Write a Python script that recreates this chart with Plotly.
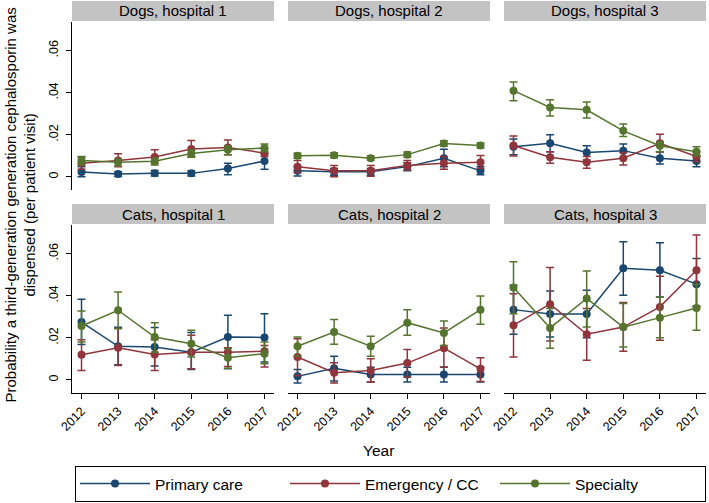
import plotly.graph_objects as go

years = [2012, 2013, 2014, 2015, 2016, 2017]
panel_titles = ["Dogs, hospital 1", "Dogs, hospital 2", "Dogs, hospital 3",
                "Cats, hospital 1", "Cats, hospital 2", "Cats, hospital 3"]
y_tickvals = [0, 0.02, 0.04, 0.06]
y_ticktext = ["0", ".02", ".04", ".06"]
series_names = ["Primary care", "Emergency / CC", "Specialty"]

# point estimates, one row per panel (order of panel_titles)
primary_est = [
    [0.0024, 0.0014, 0.0017, 0.0017, 0.0040, 0.0076],
    [0.0029, 0.0025, 0.0025, 0.0049, 0.0089, 0.0029],
    [0.0144, 0.0160, 0.0116, 0.0125, 0.0089, 0.0076],
    [0.0275, 0.0160, 0.0156, 0.0132, 0.0204, 0.0202],
    [0.0017, 0.0056, 0.0026, 0.0026, 0.0026, 0.0026],
    [0.0334, 0.0313, 0.0313, 0.0530, 0.0521, 0.0455],
]
primary_lo = [
    [0.0001, 0.0002, 0.0004, 0.0005, 0.0011, 0.0037],
    [0.0005, 0.0008, 0.0008, 0.0030, 0.0049, 0.0010],
    [0.0105, 0.0120, 0.0081, 0.0089, 0.0062, 0.0049],
    [0.0168, 0.0072, 0.0066, 0.0050, 0.0053, 0.0085],
    [-0.0015, -0.0005, -0.0010, -0.0010, -0.0010, -0.0010],
    [0.0217, 0.0204, 0.0200, 0.0402, 0.0394, 0.0350],
]
primary_hi = [
    [0.0049, 0.0025, 0.0031, 0.0030, 0.0065, 0.0110],
    [0.0050, 0.0040, 0.0040, 0.0068, 0.0132, 0.0050],
    [0.0180, 0.0200, 0.0148, 0.0157, 0.0120, 0.0097],
    [0.0383, 0.0250, 0.0249, 0.0225, 0.0307, 0.0315],
    [0.0050, 0.0112, 0.0060, 0.0060, 0.0060, 0.0060],
    [0.0450, 0.0423, 0.0426, 0.0656, 0.0652, 0.0577],
]

emergency_est = [
    [0.0065, 0.0078, 0.0095, 0.0133, 0.0140, 0.0113],
    [0.0049, 0.0029, 0.0029, 0.0054, 0.0065, 0.0070],
    [0.0149, 0.0094, 0.0070, 0.0089, 0.0160, 0.0097],
    [0.0120, 0.0153, 0.0121, 0.0132, 0.0131, 0.0136],
    [0.0109, 0.0034, 0.0045, 0.0080, 0.0151, 0.0053],
    [0.0260, 0.0360, 0.0217, 0.0251, 0.0347, 0.0521],
]
emergency_lo = [
    [0.0037, 0.0049, 0.0065, 0.0097, 0.0105, 0.0097],
    [0.0021, 0.0001, 0.0003, 0.0033, 0.0037, 0.0041],
    [0.0100, 0.0065, 0.0041, 0.0057, 0.0118, 0.0072],
    [0.0045, 0.0069, 0.0045, 0.0053, 0.0064, 0.0061],
    [0.0020, -0.0015, -0.0010, 0.0013, 0.0061, -0.0007],
    [0.0109, 0.0185, 0.0093, 0.0136, 0.0188, 0.0350],
]
emergency_hi = [
    [0.0095, 0.0110, 0.0129, 0.0173, 0.0176, 0.0133],
    [0.0078, 0.0054, 0.0054, 0.0078, 0.0097, 0.0102],
    [0.0195, 0.0120, 0.0097, 0.0116, 0.0203, 0.0120],
    [0.0191, 0.0244, 0.0191, 0.0212, 0.0153, 0.0164],
    [0.0196, 0.0082, 0.0101, 0.0145, 0.0247, 0.0106],
    [0.0410, 0.0534, 0.0339, 0.0368, 0.0493, 0.0688],
]

specialty_est = [
    [0.0078, 0.0070, 0.0075, 0.0111, 0.0129, 0.0137],
    [0.0101, 0.0103, 0.0089, 0.0106, 0.0159, 0.0149],
    [0.0410, 0.0330, 0.0319, 0.0219, 0.0148, 0.0120],
    [0.0256, 0.0331, 0.0204, 0.0172, 0.0106, 0.0125],
    [0.0160, 0.0228, 0.0160, 0.0272, 0.0223, 0.0334],
    [0.0439, 0.0247, 0.0387, 0.0251, 0.0296, 0.0342],
]
specialty_lo = [
    [0.0057, 0.0052, 0.0057, 0.0094, 0.0105, 0.0120],
    [0.0089, 0.0091, 0.0079, 0.0094, 0.0146, 0.0137],
    [0.0362, 0.0290, 0.0280, 0.0192, 0.0120, 0.0100],
    [0.0180, 0.0244, 0.0132, 0.0109, 0.0056, 0.0077],
    [0.0113, 0.0169, 0.0113, 0.0212, 0.0164, 0.0264],
    [0.0315, 0.0151, 0.0251, 0.0156, 0.0201, 0.0236],
]
specialty_hi = [
    [0.0097, 0.0084, 0.0089, 0.0129, 0.0148, 0.0157],
    [0.0113, 0.0115, 0.0099, 0.0118, 0.0172, 0.0161],
    [0.0451, 0.0367, 0.0356, 0.0251, 0.0168, 0.0144],
    [0.0328, 0.0418, 0.0272, 0.0236, 0.0149, 0.0180],
    [0.0204, 0.0287, 0.0207, 0.0334, 0.0280, 0.0399],
    [0.0561, 0.0339, 0.0517, 0.0363, 0.0394, 0.0455],
]

colors = ["#1a476f", "#90353b", "#55752f"]
FONT = "Liberation Sans, Arial, sans-serif"

W, H = 709, 503
col_px = [(72, 274), (288, 490), (504, 706)]
row_px = [(22, 190), (225, 393)]
strip_px = [(1, 21), (204, 224)]
yrange = [-0.0062, 0.0736]
xrange = [2011.74, 2017.26]

fig = go.Figure()
series = [
    (series_names[0], primary_est, primary_lo, primary_hi, colors[0]),
    (series_names[1], emergency_est, emergency_lo, emergency_hi, colors[1]),
    (series_names[2], specialty_est, specialty_lo, specialty_hi, colors[2]),
]

layout_axes = {}
shapes = []
annotations = []
for p in range(6):
    r, c = divmod(p, 3)
    ax = p + 1
    xa = "x" if ax == 1 else f"x{ax}"
    ya = "y" if ax == 1 else f"y{ax}"
    for name, est, lo, hi, color in series:
        e = est[p]
        fig.add_trace(go.Scatter(
            x=years, y=e, mode="lines+markers", name=name, legendgroup=name,
            showlegend=(p == 0), xaxis=xa, yaxis=ya,
            line=dict(color=color, width=1.5),
            marker=dict(size=8, color=color),
            error_y=dict(type="data", symmetric=False,
                         array=[h - v for h, v in zip(hi[p], e)],
                         arrayminus=[v - l for v, l in zip(e, lo[p])],
                         color=color, thickness=1.5, width=4),
        ))
    x0, x1 = col_px[c]
    y0, y1 = row_px[r]
    layout_axes["xaxis" if ax == 1 else f"xaxis{ax}"] = dict(
        domain=[x0 / W, x1 / W], range=xrange, anchor=ya,
        showline=(r == 1), linecolor="black", linewidth=1,
        ticks="outside" if r == 1 else "", ticklen=5, tickcolor="black",
        showticklabels=(r == 1), tickvals=years, tickangle=-45,
        tickfont=dict(size=12.5, color="black", family=FONT),
        showgrid=False, zeroline=False,
    )
    layout_axes["yaxis" if ax == 1 else f"yaxis{ax}"] = dict(
        domain=[1 - y1 / H, 1 - y0 / H], range=yrange, anchor=xa,
        showline=(c == 0), linecolor="black", linewidth=1,
        ticks="outside" if c == 0 else "", ticklen=5, tickcolor="black",
        showticklabels=(c == 0), tickvals=y_tickvals, ticktext=y_ticktext,
        tickangle=-90, ticklabelstandoff=3,
        tickfont=dict(size=12.5, color="black", family=FONT),
        showgrid=False, zeroline=False,
    )
    s0, s1 = strip_px[r]
    shapes.append(dict(type="rect", xref="paper", yref="paper",
                       x0=x0 / W, x1=x1 / W, y0=1 - s1 / H, y1=1 - s0 / H,
                       fillcolor="#c3c3c3", line=dict(width=0), layer="below"))
    annotations.append(dict(text=panel_titles[p], xref="paper", yref="paper",
                            x=(x0 + x1) / 2 / W, y=1 - (s0 + s1) / 2 / H,
                            showarrow=False, xanchor="center", yanchor="middle",
                            font=dict(size=15, color="black", family=FONT)))

annotations.append(dict(text="Year", xref="paper", yref="paper",
                        x=379 / W, y=1 - 450 / H, showarrow=False,
                        xanchor="center", yanchor="middle",
                        font=dict(size=15.5, color="black", family=FONT)))
annotations.append(dict(text="Probability a third-generation generation cephalosporin was<br>dispensed (per patient visit)",
                        xref="paper", yref="paper", x=19.5 / W, y=1 - 205 / H,
                        textangle=-90, showarrow=False,
                        xanchor="center", yanchor="middle",
                        font=dict(size=15, color="black", family=FONT)))

fig.update_layout(
    width=W, height=H,
    margin=dict(l=0, r=0, t=0, b=0, autoexpand=False),
    paper_bgcolor="white", plot_bgcolor="white",
    font=dict(family=FONT, color="black"),
    shapes=shapes, annotations=annotations,
    showlegend=True,
    legend=dict(orientation="h", x=75 / W, y=1 - 466 / H,
                xanchor="left", yanchor="top",
                bordercolor="black", borderwidth=1, bgcolor="white",
                entrywidth=125, entrywidthmode="pixels", itemwidth=70,
                font=dict(size=15.5, color="black", family=FONT)),
    **layout_axes,
)

fig.write_html("out.html", config={"displayModeBar": False},
               post_script="document.body.style.margin='0px';")
